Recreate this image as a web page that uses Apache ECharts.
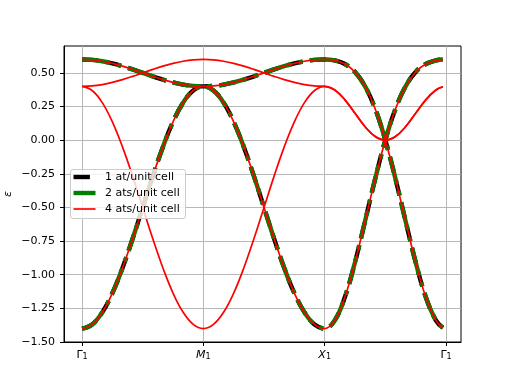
<!DOCTYPE html>
<html>
<head>
<meta charset="utf-8">
<script src="https://cdn.jsdelivr.net/npm/echarts@6/dist/echarts.min.js"></script>
<style>html,body{margin:0;padding:0;background:#fff}#c{width:512px;height:384px}</style>
</head>
<body>
<div id="c"></div>
<script>
// path coordinate (segments Γ1–M1, M1–X1, X1–Γ1, each of unit length)
var xPath = [0,0.0833,0.1667,0.25,0.3333,0.4167,0.5,0.5833,0.6667,0.75,0.8333,0.9167,
  1,1.0833,1.1667,1.25,1.3333,1.4167,1.5,1.5833,1.6667,1.75,1.8333,1.9167,
  2,2.0833,2.1667,2.25,2.3333,2.4167,2.5,2.5833,2.6667,2.75,2.8333,2.9167,2.975];
// band A (shared by all cells)
var bandA = [-1.4,-1.3693,-1.2794,-1.1364,-0.95,-0.7329,-0.5,-0.2671,-0.05,0.1364,0.2794,0.3693,
  0.4,0.3693,0.2794,0.1364,-0.05,-0.2671,-0.5,-0.7329,-0.95,-1.1364,-1.2794,-1.3693,
  -1.4,-1.3391,-1.166,-0.9071,-0.6,-0.2856,0,0.232,0.4,0.5071,0.566,0.5927,0.5994];
// band B (shared by all cells)
var bandB = [0.6,0.5966,0.5866,0.5707,0.55,0.5259,0.5,0.4741,0.45,0.4293,0.4134,0.4034,
  0.4,0.4034,0.4134,0.4293,0.45,0.4741,0.5,0.5259,0.55,0.5707,0.5866,0.5966,
  0.6,0.5927,0.566,0.5071,0.4,0.232,0,-0.2856,-0.6,-0.9071,-1.166,-1.3391,-1.3945];
// extra bands of the 4-atom cell
var bandC = [0.4,0.3693,0.2794,0.1364,-0.05,-0.2671,-0.5,-0.7329,-0.95,-1.1364,-1.2794,-1.3693,
  -1.4,-1.3693,-1.2794,-1.1364,-0.95,-0.7329,-0.5,-0.2671,-0.05,0.1364,0.2794,0.3693,
  0.4,0.3732,0.3,0.2,0.1,0.0268,0,0.0268,0.1,0.2,0.3,0.3732,0.3975];
var bandD = [0.4,0.4034,0.4134,0.4293,0.45,0.4741,0.5,0.5259,0.55,0.5707,0.5866,0.5966,
  0.6,0.5966,0.5866,0.5707,0.55,0.5259,0.5,0.4741,0.45,0.4293,0.4134,0.4034,
  0.4,0.3732,0.3,0.2,0.1,0.0268,0,0.0268,0.1,0.2,0.3,0.3732,0.3975];
var xTickPos = [0,1,2,3];
var xTickNames = ['Γ','M','X','Γ'];
var xTickItalic = [false,true,true,false];
var yTicks = [-1.5,-1.25,-1,-0.75,-0.5,-0.25,0,0.25,0.5];
var seriesNames = ['1 at/unit cell','2 ats/unit cell','4 ats/unit cell'];

function pts(b){ return xPath.map(function(x,i){ return [x,b[i]]; }); }
var FONT = 'DejaVu Sans';
var blackDash = [16.4,7.1], greenDash = [28.4,7.1,4.4,7.1];
function mk(name, band, color, width, type){
  return {name:name, type:'line', data:pts(band), showSymbol:false, symbol:'none', smooth:0.4, z:2,
    lineStyle:{color:color, width:width, type:type, cap:'butt'}, silent:true, animation:false};
}
var series = [
  mk(seriesNames[0], bandA, '#000000', 4.4, blackDash),
  mk(seriesNames[0], bandB, '#000000', 4.4, blackDash),
  mk(seriesNames[1], bandA, '#008000', 4.4, greenDash),
  mk(seriesNames[1], bandB, '#008000', 4.4, greenDash),
  mk(seriesNames[2], bandA, '#ff0000', 1.7, 'solid'),
  mk(seriesNames[2], bandB, '#ff0000', 1.7, 'solid'),
  mk(seriesNames[2], bandC, '#ff0000', 1.7, 'solid'),
  mk(seriesNames[2], bandD, '#ff0000', 1.7, 'solid')
];
var xMax = xPath[xPath.length-1];
var pad = 0.05*xMax;
var chart = echarts.init(document.getElementById('c'), null, {renderer:'canvas'});
var legendRows = [177,193,209];
var LZ = 100;
chart.setOption({
  animation:false,
  backgroundColor:'#fff',
  grid:{left:64, right:51, top:46, bottom:42, containLabel:false, outerBoundsMode:'none',
    show:true, borderColor:'#000', borderWidth:1, backgroundColor:'transparent'},
  xAxis:{type:'value', min:-pad, max:xMax+pad,
    axisLine:{show:true, onZero:false, lineStyle:{color:'#000', width:1}},
    axisTick:{show:true, length:4, customValues:xTickPos, lineStyle:{color:'#000', width:1}},
    splitLine:{show:true, lineStyle:{color:'#b0b0b0', width:0.9}},
    axisLabel:{customValues:xTickPos, margin:6, color:'#000', fontFamily:FONT,
      formatter:function(v){ var i = xTickPos.indexOf(Math.round(v)); return '{'+(xTickItalic[i]?'it':'up')+'|'+xTickNames[i]+'}{sub|1}'; },
      rich:{up:{fontSize:11, fontFamily:FONT, color:'#000', lineHeight:13, verticalAlign:'bottom'},
            it:{fontSize:11, fontFamily:FONT, fontStyle:'italic', color:'#000', lineHeight:13, verticalAlign:'bottom'},
            sub:{fontSize:8, fontFamily:FONT, color:'#000', lineHeight:8, verticalAlign:'bottom'}}}
  },
  yAxis:{type:'value', min:-1.5, max:0.7, interval:0.25,
    name:'ε', nameLocation:'middle', nameRotate:90, nameGap:50, nameMoveOverlap:false,
    nameTextStyle:{fontFamily:FONT, fontStyle:'italic', fontSize:11, color:'#000'},
    axisLine:{show:true, onZero:false, lineStyle:{color:'#000', width:1}},
    axisTick:{show:true, length:4, customValues:yTicks, lineStyle:{color:'#000', width:1}},
    splitLine:{show:true, lineStyle:{color:'#b0b0b0', width:0.9}},
    axisLabel:{customValues:yTicks, margin:9, color:'#000', fontFamily:FONT, fontSize:11,
      formatter:function(v){ return v.toFixed(2).replace('-','\u2212'); }}
  },
  series:series,
  graphic:[
    {type:'rect', z:LZ, shape:{x:70.5, y:169.5, width:115, height:49, r:2.5}, style:{fill:'rgba(255,255,255,0.8)', stroke:'#cccccc', lineWidth:1}},
    {type:'line', z:LZ+1, shape:{x1:73.5, y1:legendRows[0], x2:95.5, y2:legendRows[0]}, style:{stroke:'#000000', lineWidth:4.4, lineDash:blackDash, lineCap:'butt'}},
    {type:'line', z:LZ+1, shape:{x1:73.5, y1:legendRows[1], x2:95.5, y2:legendRows[1]}, style:{stroke:'#008000', lineWidth:4.4, lineDash:greenDash, lineCap:'butt'}},
    {type:'line', z:LZ+1, shape:{x1:73.5, y1:legendRows[2], x2:95.5, y2:legendRows[2]}, style:{stroke:'#ff0000', lineWidth:1.7}},
    {type:'text', z:LZ+1, style:{x:105, y:legendRows[0], text:seriesNames[0], font:'11px "DejaVu Sans"', fill:'#000', verticalAlign:'middle'}},
    {type:'text', z:LZ+1, style:{x:105, y:legendRows[1], text:seriesNames[1], font:'11px "DejaVu Sans"', fill:'#000', verticalAlign:'middle'}},
    {type:'text', z:LZ+1, style:{x:105, y:legendRows[2], text:seriesNames[2], font:'11px "DejaVu Sans"', fill:'#000', verticalAlign:'middle'}}
  ]
});
</script>
</body>
</html>
